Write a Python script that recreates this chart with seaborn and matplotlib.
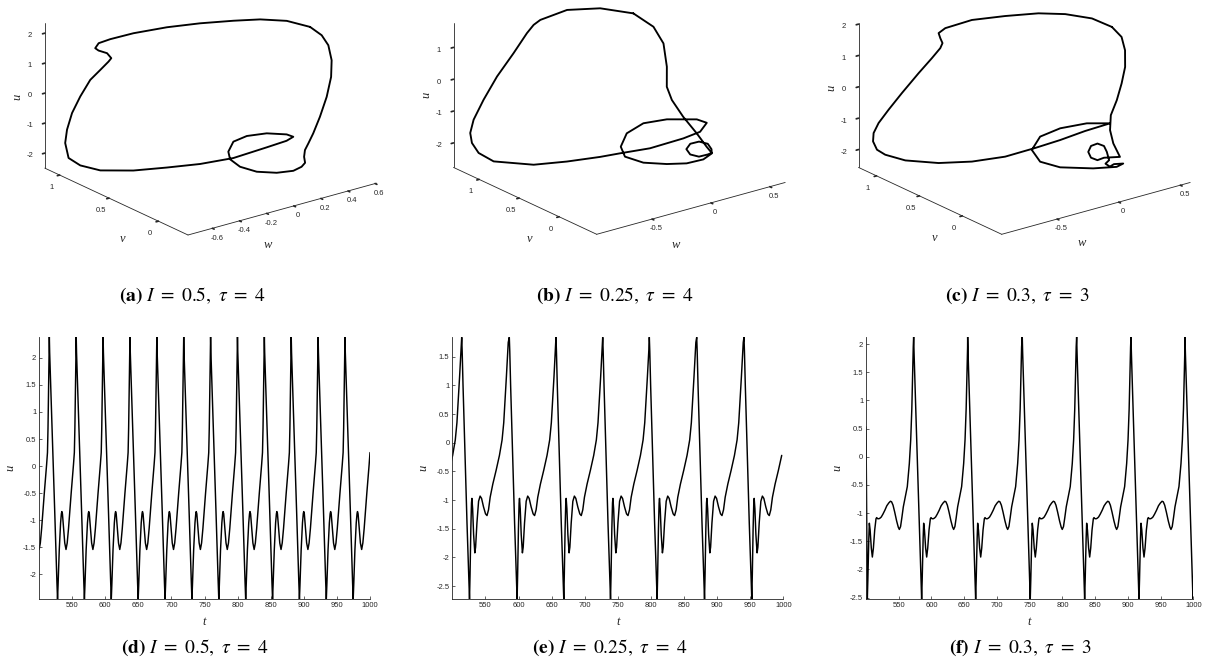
import numpy as np
import matplotlib
matplotlib.use("Agg")
import matplotlib.pyplot as plt
import seaborn as sns
from mpl_toolkits.mplot3d import proj3d

W_PX, H_PX = 1213, 663
GREY = "#262626"

# ------------------------------#
# 0. Phase portraits (w, v, u), one period each
# ------------------------------#
a_w = [0.418, 0.367, 0.264, 0.136, -0.027, -0.199, -0.384, -0.521, -0.570, -0.591,
       -0.584, -0.541, -0.541, -0.543, -0.589, -0.616, -0.648, -0.681, -0.697, -0.704,
       -0.703, -0.648, -0.560, -0.512, -0.431, -0.331, -0.192, 0.010, 0.137, 0.193,
       0.183, 0.107, 0.015, -0.074, -0.152, -0.190, -0.188, -0.136, -0.042, 0.061,
       0.139, 0.189, 0.229, 0.279, 0.332, 0.364, 0.396, 0.432, 0.442, 0.446,
       0.431, 0.425]
a_v = [0.109, 0.275, 0.403, 0.497, 0.612, 0.711, 0.796, 0.843, 0.893, 0.899,
       0.875, 0.848, 0.805, 0.830, 0.850, 0.915, 0.972, 1.010, 1.039, 1.048,
       1.015, 0.972, 0.890, 0.621, 0.393, 0.194, 0.048, -0.013, -0.039, -0.030,
       0.023, 0.121, 0.196, 0.210, 0.154, 0.084, -0.014, -0.112, -0.185, -0.212,
       -0.188, -0.155, -0.090, -0.030, 0.008, 0.003, -0.021, -0.040, -0.071, -0.071,
       -0.058, 0.001]
a_u = [2.32, 2.33, 2.31, 2.28, 2.22, 2.15, 2.05, 1.95, 1.80, 1.65,
       1.60, 1.50, 1.40, 1.25, 1.00, 0.60, 0.00, -0.57, -1.15, -1.60,
       -2.05, -2.30, -2.45, -2.10, -1.75, -1.45, -1.20, -1.00, -0.90, -0.85,
       -0.84, -0.86, -0.95, -1.05, -1.20, -1.30, -1.40, -1.48, -1.52, -1.54,
       -1.54, -1.52, -1.47, -1.40, -1.30, -1.00, -0.45, 0.20, 0.90, 1.45,
       1.95, 2.20]

b_w = [0.107, -0.023, -0.197, -0.392, -0.448, -0.524, -0.679, -0.815, -0.898, -0.925,
       -0.913, -0.872, -0.805, -0.712, -0.573, -0.504, -0.420, -0.381, -0.255, -0.036,
       0.103, 0.238, 0.235, 0.112, -0.004, -0.135, -0.247, -0.284, -0.218, -0.101,
       -0.013, 0.067, 0.107, 0.100, 0.087, 0.029, -0.061, -0.143, -0.158, -0.100,
       -0.005, 0.030, 0.028, 0.056, 0.083, 0.123, 0.156, 0.204, 0.252, 0.207]
b_v = [0.658, 0.881, 1.039, 1.086, 1.087, 1.059, 0.998, 1.004, 1.050, 1.135,
       1.195, 1.234, 1.249, 1.198, 0.903, 0.588, 0.298, 0.105, -0.083, -0.178,
       -0.182, -0.067, 0.053, 0.246, 0.369, 0.384, 0.294, 0.187, 0.054, -0.067,
       -0.185, -0.276, -0.322, -0.329, -0.302, -0.278, -0.301, -0.373, -0.443, -0.467,
       -0.439, -0.435, -0.375, -0.210, 0.000, 0.200, 0.312, 0.382, 0.495, 0.554]
b_u = [1.75, 1.78, 1.72, 1.55, 1.45, 1.30, 0.90, 0.30, -0.40, -1.10,
       -1.60, -2.00, -2.40, -2.70, -2.60, -2.20, -1.80, -1.50, -1.25, -1.05,
       -0.98, -0.97, -1.00, -1.10, -1.25, -1.45, -1.65, -1.80, -1.90, -1.92,
       -1.85, -1.70, -1.50, -1.35, -1.20, -1.10, -1.05, -1.05, -1.12, -1.22,
       -1.28, -1.27, -1.15, -0.95, -0.70, -0.45, -0.20, 0.30, 0.85, 1.35]

c_w = [0.314, 0.288, 0.216, 0.115, -0.043, -0.205, -0.362, -0.416, -0.439, -0.454,
       -0.486, -0.554, -0.647, -0.762, -0.841, -0.883, -0.881, -0.855, -0.823, -0.750,
       -0.641, -0.551, -0.468, -0.347, -0.202, -0.056, 0.136, 0.341, 0.246, 0.090,
       -0.052, -0.199, -0.251, -0.190, -0.060, 0.008, 0.061, -0.010, -0.058, -0.066,
       -0.026, 0.002, 0.000, -0.058, -0.117, -0.162, -0.160, -0.113, -0.032, 0.014,
       -0.010, -0.001, 0.029, 0.069, 0.122, 0.184, 0.246, 0.295]
c_v = [0.071, 0.266, 0.474, 0.642, 0.802, 0.958, 1.043, 1.043, 0.990, 0.943,
       0.923, 0.924, 0.944, 0.974, 1.016, 1.072, 1.133, 1.177, 1.177, 1.186,
       1.108, 0.849, 0.580, 0.366, 0.225, 0.143, 0.128, 0.131, 0.266, 0.352,
       0.382, 0.268, 0.096, -0.049, -0.248, -0.424, -0.425, -0.419, -0.440, -0.400,
       -0.385, -0.318, -0.288, -0.295, -0.305, -0.337, -0.366, -0.374, -0.334, -0.454,
       -0.411, -0.360, -0.326, -0.338, -0.318, -0.270, -0.180, -0.069]
c_u = [2.00, 2.05, 2.00, 1.92, 1.80, 1.65, 1.45, 1.35, 1.28, 1.20,
       1.10, 0.85, 0.45, -0.10, -0.60, -1.05, -1.45, -1.80, -2.10, -2.35,
       -2.55, -2.40, -2.10, -1.80, -1.50, -1.30, -1.20, -1.18, -1.25, -1.35,
       -1.50, -1.62, -1.72, -1.78, -1.70, -1.50, -1.45, -1.40, -1.40, -1.35,
       -1.30, -1.15, -1.00, -0.85, -0.85, -0.95, -1.10, -1.22, -1.28, -1.15,
       -0.75, -0.40, 0.00, 0.45, 0.90, 1.30, 1.65, 1.88]

# axis limits (w, v, u) and ticks of the three portraits
a_lims = ((-0.78, 0.61), (-0.30, 1.15), (-2.50, 2.33))
b_lims = ((-0.97, 0.63), (-0.47, 1.32), (-2.77, 1.78))
c_lims = ((-0.95, 0.58), (-0.46, 1.21), (-2.57, 2.05))
a_wticks = [-0.6, -0.4, -0.2, 0, 0.2, 0.4, 0.6]
bc_wticks = [-0.5, 0, 0.5]
v_ticks = [0, 0.5, 1]
a_uticks = [-2, -1, 0, 1, 2]
b_uticks = [-2, -1, 0, 1]

# ------------------------------#
# 1. Time series: spike times and the shape of one cycle after a spike
# ------------------------------#
d_peaks = [475.0, 515.6, 556.2, 596.8, 637.4, 678.0, 718.6, 759.2, 799.8,
           840.4, 881.0, 921.6, 962.2]
d_off = [0, 0.5, 2, 4, 6, 8, 10, 11.5, 12.4, 13.2, 15, 17, 18.2, 18.9, 19.8,
         21.5, 23.3, 25.2, 27, 29, 31, 33, 35, 36.5, 37.8, 38.6, 39.3, 39.9, 40.3]
d_val = [2.39, 2.1, 1.5, 0.75, 0.0, -0.78, -1.58, -2.15, -2.46, -2.2, -1.55,
         -1.05, -0.88, -0.84, -0.88, -1.15, -1.42, -1.54, -1.42, -1.15, -0.82,
         -0.5, -0.2, 0.03, 0.25, 0.7, 1.3, 1.9, 2.25]

e_peaks = [443.5, 514.2, 586.1, 656.6, 727.2, 797.6, 869.2, 940.6]
e_off = [0, 0.7, 2, 4, 6, 8, 10, 11.8, 12.6, 13.8, 14.8, 15.4, 16.5, 18, 19.8,
         21, 23, 25.5, 27.8, 30, 33, 36, 38.2, 40.5, 43, 47, 52, 57, 61, 63.5,
         65.5, 67.5, 69.3, 70.3]
e_val = [1.84, 1.6, 1.0, 0.2, -0.6, -1.4, -2.1, -2.73, -2.3, -1.5, -1.05, -0.97,
         -1.15, -1.6, -1.92, -1.82, -1.4, -1.02, -0.93, -0.97, -1.12, -1.24,
         -1.27, -1.17, -0.95, -0.72, -0.48, -0.22, 0.05, 0.35, 0.75, 1.15, 1.55,
         1.75]

f_peaks = [489.8, 572.8, 655.3, 738.7, 821.8, 904.8, 987.3]
f_off = [0, 0.6, 2, 4, 6, 8, 10, 11.3, 12.2, 13, 14.5, 15.3, 16.5, 18.3, 19.9,
         21.5, 23.5, 25.5, 26.5, 28, 30, 31.6, 33.5, 36, 39, 42, 45, 47.5, 49.3,
         51.5, 54, 57, 59.5, 61.1, 63, 65, 67.2, 70, 73.3, 76.4, 78.5, 80.2, 81.5,
         82.4]
f_val = [2.13, 1.85, 1.3, 0.55, -0.2, -0.95, -1.7, -2.2, -2.53, -2.2, -1.45,
         -1.18, -1.3, -1.62, -1.78, -1.62, -1.3, -1.1, -1.08, -1.1, -1.1, -1.09,
         -1.07, -1.02, -0.95, -0.87, -0.82, -0.79, -0.8, -0.86, -0.98, -1.14,
         -1.25, -1.29, -1.24, -1.08, -0.89, -0.72, -0.53, -0.12, 0.3, 0.85, 1.5,
         1.95]
f_head_t = [500.0, 501.9]
f_head_u = [0.53, -2.53]
T_END = 1000.5

d_ylim = (-2.46, 2.39)
e_ylim = (-2.73, 1.85)
f_ylim = (-2.53, 2.13)
d_yticks = [-2, -1.5, -1, -0.5, 0, 0.5, 1, 1.5, 2]
e_yticks = [-2.5, -2, -1.5, -1, -0.5, 0, 0.5, 1, 1.5]
f_yticks = [-2.5, -2, -1.5, -1, -0.5, 0, 0.5, 1, 1.5, 2]
t_ticks = [550, 600, 650, 700, 750, 800, 850, 900, 950, 1000]

captions = [r"$\mathbf{(a)}\ I\ =\ 0.5,\ \tau\ =\ 4$",
            r"$\mathbf{(b)}\ I\ =\ 0.25,\ \tau\ =\ 4$",
            r"$\mathbf{(c)}\ I\ =\ 0.3,\ \tau\ =\ 3$",
            r"$\mathbf{(d)}\ I\ =\ 0.5,\ \tau\ =\ 4$",
            r"$\mathbf{(e)}\ I\ =\ 0.25,\ \tau\ =\ 4$",
            r"$\mathbf{(f)}\ I\ =\ 0.3,\ \tau\ =\ 3$"]


def build_series(peaks, off, val, head_t=None, head_u=None):
    t = np.concatenate([p + np.asarray(off) for p in peaks])
    u = np.tile(np.asarray(val), len(peaks))
    if head_t:
        keep = t > head_t[-1]
        t = np.concatenate([head_t, t[keep]])
        u = np.concatenate([head_u, u[keep]])
    keep = t <= T_END
    return t[keep], u[keep]


# ------------------------------#
# 2. Figure
# ------------------------------#
sns.set_theme(style="ticks")
plt.rcParams["font.family"] = ["Liberation Sans", "DejaVu Sans"]
plt.rcParams["mathtext.fontset"] = "stix"
plt.rcParams["axes.unicode_minus"] = False
try:
    plt.rcParams["axes3d.automargin"] = False
except KeyError:
    pass

LABEL_FONT = {"family": "Liberation Serif", "style": "italic", "size": 9}
fig = plt.figure(figsize=(W_PX / 100, H_PX / 100), dpi=100)


def px_rect(left, top, width, height):
    return [left / W_PX, 1 - (top + height) / H_PX, width / W_PX, height / H_PX]


def fig_label(x, y, s, rotation=0):
    fig.text(x / W_PX, 1 - y / H_PX, s, ha="center", va="center",
             rotation=rotation, color=GREY, **LABEL_FONT)


def phase_axes(center_x, w, v, u, lims, wticks, uticks):
    side = 420
    ax = fig.add_axes(px_rect(center_x - side / 2, 103 - side / 2, side, side),
                      projection="3d")
    ax.plot(w + w[:1], v + v[:1], u + u[:1], color="black", linewidth=1.35,
            solid_joinstyle="round", solid_capstyle="round")
    (w0, w1), (v0, v1), (u0, u1) = lims
    ax.set_proj_type("ortho")
    ax.view_init(elev=21, azim=-127.5)
    ax.set_box_aspect((1, 0.99, 0.653))
    ax.set_xlim(w0, w1)
    ax.set_ylim(v0, v1)
    ax.set_zlim(u0, u1)
    ax.set_xticks(wticks, [f"{x:g}" for x in wticks])
    ax.set_yticks(v_ticks, [f"{x:g}" for x in v_ticks])
    ax.set_zticks(uticks, [f"{x:g}" for x in uticks])
    ax.grid(False)
    ax.patch.set_alpha(0)
    for axis in (ax.xaxis, ax.yaxis, ax.zaxis):
        axis.set_pane_color((1, 1, 1, 0))
        axis.pane.set_edgecolor((1, 1, 1, 0))
        axis.line.set_color(GREY)
        axis.line.set_linewidth(0.6)
        axis._axinfo["tick"]["inward_factor"] = 0.15
        axis._axinfo["tick"]["outward_factor"] = 0.0
    ax.tick_params(labelsize=5.5, colors=GREY, width=0.5, pad=-2)
    ax.tick_params(axis="x", pad=-4)
    return ax


def place_3d(ax, lims, front_px, w_len_px):
    # move the square axes so the front-bottom corner of the box sits where
    # the original shows it, with the w edge at the original length
    fig.canvas.draw()
    (w0, w1), (v0, v1), (u0, u1) = lims
    xs, ys, _ = proj3d.proj_transform(np.array([w0, w1]), np.array([v0, v0]),
                                      np.array([u0, u0]), ax.M)
    p = ax.transData.transform(np.column_stack([xs, ys]))
    bb = ax.bbox
    k = w_len_px / (p[1, 0] - p[0, 0])
    fx = (p[0, 0] - bb.x0) / bb.width
    fy = (p[0, 1] - bb.y0) / bb.height
    side = bb.width * k
    tx, ty = front_px[0], H_PX - front_px[1]
    x0, y0 = tx - fx * side, ty - fy * side
    ax.set_position([x0 / W_PX, y0 / H_PX, side / W_PX, side / H_PX])


def series_axes(left, width, t, u, ylim, yticks):
    ax = fig.add_axes(px_rect(left, 336.7, width, 262.6))
    sns.lineplot(x=t, y=u, ax=ax, color="black", linewidth=1.05,
                 sort=False, estimator=None)
    ax.lines[-1].set_solid_joinstyle("round")
    ax.set_xlim(500, 1000)
    ax.set_ylim(*ylim)
    ax.set_xticks(t_ticks, [f"{x:g}" for x in t_ticks])
    ax.set_yticks(yticks, [f"{x:g}" for x in yticks])
    sns.despine(ax=ax)
    for s in ("left", "bottom"):
        ax.spines[s].set_linewidth(0.6)
        ax.spines[s].set_color(GREY)
    ax.tick_params(direction="in", length=2.5, width=0.5, labelsize=5.5,
                   colors=GREY, pad=2)
    ax.set_xlabel("t", fontdict=LABEL_FONT, labelpad=5)
    ax.set_ylabel("u", fontdict=LABEL_FONT, labelpad=5)
    return ax


ax_a = phase_axes(211, a_w, a_v, a_u, a_lims, a_wticks, a_uticks)
ax_b = phase_axes(619, b_w, b_v, b_u, b_lims, bc_wticks, b_uticks)
ax_c = phase_axes(1024, c_w, c_v, c_u, c_lims, bc_wticks, a_uticks)

for ax, lims, front in ((ax_a, a_lims, (188.0, 235.0)),
                        (ax_b, b_lims, (596.7, 234.3)),
                        (ax_c, c_lims, (1001.7, 234.3))):
    place_3d(ax, lims, front, 188.5)

# axis names of the portraits, where the original prints them
for (ux, uy), (vx, vy), (wx, wy) in (((17.3, 96.7), (122.7, 239.3), (268.3, 245.0)),
                                     ((426.7, 95.0), (530.0, 239.3), (676.0, 245.0)),
                                     ((831.7, 87.5), (935.0, 238.3), (1081.7, 243.3))):
    fig_label(ux, uy, "u", rotation=90)
    fig_label(vx, vy, "v")
    fig_label(wx, wy, "w")

t_d, u_d = build_series(d_peaks, d_off, d_val)
t_e, u_e = build_series(e_peaks, e_off, e_val)
t_f, u_f = build_series(f_peaks, f_off, f_val, f_head_t, f_head_u)

series_axes(39.0, 331.0, t_d, u_d, d_ylim, d_yticks)
series_axes(452.3, 331.0, t_e, u_e, e_ylim, e_yticks)
series_axes(866.0, 327.3, t_f, u_f, f_ylim, f_yticks)

cap_x = [192, 615, 1017, 195, 610, 1020]
cap_y = [296, 296, 296, 648, 648, 648]
for s, x, y in zip(captions, cap_x, cap_y):
    fig.text(x / W_PX, 1 - y / H_PX, s, ha="center", va="center",
             fontsize=14, color="black")

fig.savefig("out.png", dpi=100)
